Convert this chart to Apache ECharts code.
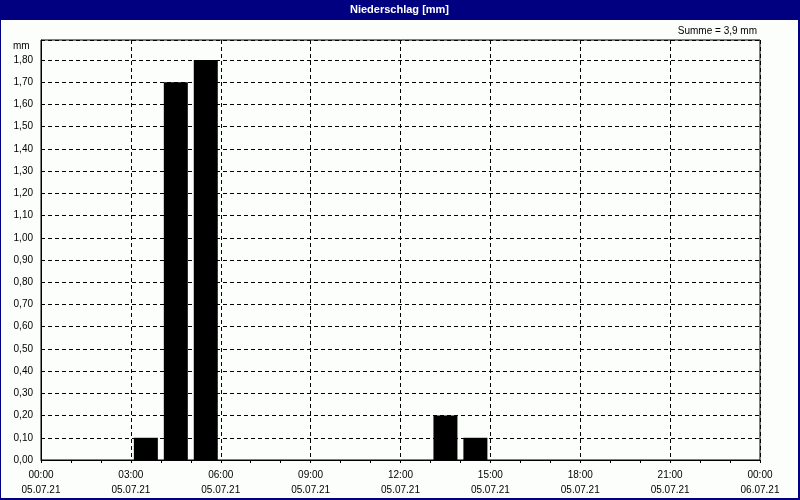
<!DOCTYPE html>
<html>
<head>
<meta charset="utf-8">
<title>Niederschlag</title>
<script src="https://cdn.jsdelivr.net/npm/echarts@6/dist/echarts.min.js"></script>
<style>
  html, body { margin: 0; padding: 0; background: #fff; }
  #main { width: 800px; height: 500px; box-sizing: border-box;
          border-left: 1px solid #000080; border-right: 2px solid #000080; border-bottom: 2px solid #000080;
          background: #fcfefc; }
</style>
</head>
<body>
<div id="main"></div>
<script>
  // hourly precipitation 05.07.21, hours 0..23
  var hours = [0, 1, 2, 3, 4, 5, 6, 7, 8, 9, 10, 11, 12, 13, 14, 15, 16, 17, 18, 19, 20, 21, 22, 23]
  var rain = [0, 0, 0, 0.1, 1.7, 1.8, 0, 0, 0, 0, 0, 0, 0, 0.2, 0.1, 0, 0, 0, 0, 0, 0, 0, 0, 0]
  var dayLabels = ['05.07.21', '06.07.21']
  var total = '3,9'

  var font = 'Liberation Sans, Arial, sans-serif'
  var chart = echarts.init(document.getElementById('main'), null, {renderer: 'canvas'})

  var data = hours.map(function (h, i) { return [h + 0.5, rain[i]] })

  var option = {
    animation: false,
    textStyle: {fontFamily: font},
    graphic: [
      {type: 'rect', left: 0, top: 0, shape: {width: 800, height: 20}, style: {fill: '#000080'}, z: 10},
      {type: 'text', left: 'center', top: 4, z: 11,
        style: {text: 'Niederschlag [mm]', fill: '#fff', font: 'bold 11px ' + font}},
      {type: 'text', right: 41, top: 26, style: {text: 'Summe = ' + total + ' mm', fill: '#000', font: '10px ' + font}},
      {type: 'text', left: 12, top: 41, style: {text: 'mm', fill: '#000', font: '10px ' + font}}
    ],
    grid: {left: 40, right: 38, top: 40, bottom: 38, show: true, borderColor: '#000', borderWidth: 1, backgroundColor: 'transparent'},
    xAxis: {
      type: 'value',
      min: 0,
      max: 24,
      interval: 3,
      axisLine: {lineStyle: {color: '#000'}},
      axisTick: {show: true, length: 3, lineStyle: {color: '#000'}},
      minorTick: {show: true, splitNumber: 3, length: 3, lineStyle: {color: '#000'}},
      splitLine: {show: true, lineStyle: {color: '#000', type: [4, 3]}},
      axisLabel: {
        color: '#000', fontSize: 10, lineHeight: 15, margin: 8,
        formatter: function (v) {
          var h = v % 24
          var d = v >= 24 ? dayLabels[1] : dayLabels[0]
          return (h < 10 ? '0' : '') + h + ':00\n' + d
        }
      }
    },
    yAxis: {
      type: 'value',
      min: 0,
      max: 1.89,
      interval: 0.1,
      axisLine: {show: true, lineStyle: {color: '#000'}},
      axisTick: {show: false},
      splitLine: {show: true, lineStyle: {color: '#000', type: [4, 3]}},
      axisLabel: {
        color: '#000', fontSize: 10, margin: 8, showMaxLabel: false,
        formatter: function (v) {
          if (v > 1.85) return ''
          return v.toFixed(2).replace('.', ',')
        }
      }
    },
    series: [{
      type: 'bar',
      data: data,
      barWidth: 24,
      itemStyle: {color: '#000'}
    }]
  }

  chart.setOption(option)
</script>
</body>
</html>
